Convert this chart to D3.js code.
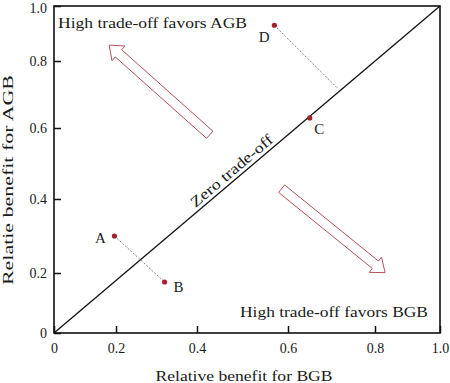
<!DOCTYPE html>
<html>
<head>
<meta charset="utf-8">
<script src="https://cdn.jsdelivr.net/npm/d3@7/dist/d3.min.js"></script>
<style>
  html, body { margin: 0; padding: 0; background: #ffffff; }
  svg text { font-family: "Liberation Serif", "Times New Roman", Times, "DejaVu Serif", serif; fill: #1a1a1a; }
</style>
</head>
<body>
<script>
// ---------------- data ----------------
const xTicks = [0, 0.2, 0.4, 0.6, 0.8, 1.0];
const xTickLabels = ["0", "0.2", "0.4", "0.6", "0.8", "1.0"];
const yTicks = [0, 0.2, 0.4, 0.6, 0.8, 1.0];
const yTickLabels = ["0", "0.2", "0.4", "0.6", "0.8", "1.0"];

const pointNames = ["A", "B", "C", "D"];
const bgbBenefit = [0.195, 0.32, 0.65, 0.57];   // x values
const agbBenefit = [0.30, 0.17, 0.63, 0.93];    // y values

// dotted connector lines: [from, to] in data units
const linkFrom = [[0.195, 0.30], [0.57, 0.93]];
const linkTo   = [[0.32, 0.17], [0.716, 0.716]];

// direction arrows: tail -> tip in data units
const arrowTail = [[0.428, 0.581], [0.586, 0.429]];
const arrowTip  = [[0.178, 0.858], [0.831, 0.201]];

const xTitle = "Relative benefit for BGB";
const yTitle = "Relatie benefit for AGB";
const diagLabel = "Zero trade-off";
const topLabel = "High trade-off favors AGB";
const bottomLabel = "High trade-off favors BGB";

// ---------------- drawing ----------------
const W = 450, H = 383;
const FONT = "'Liberation Serif', 'Times New Roman', Times, 'DejaVu Serif', serif";
const svg = d3.select("body").append("svg").attr("width", W).attr("height", H)
  .style("font-family", FONT);

// the reference's tick spacing is uneven, so the scales are piecewise over the ticks
const x = d3.scaleLinear().domain(xTicks).range([54, 116, 197, 288, 375, 440]);
const y = d3.scaleLinear().domain(yTicks).range([333, 273, 199, 128, 61, 6]);

const red = "#a3222e";
const arrowRed = "#b4505c";

// diagonal (zero trade-off)
const x0 = x(0), y0 = y(0), x1 = x(1), y1 = y(1);
svg.append("line")
  .attr("x1", x0).attr("y1", y0).attr("x2", x1).attr("y2", y1)
  .attr("stroke", "#111").attr("stroke-width", 1.3);

// axes
const xAxis = svg.append("g").attr("transform", `translate(0,${y0})`)
  .call(d3.axisBottom(x).tickValues(xTicks).tickFormat((d, i) => xTickLabels[i])
    .tickSize(-7).tickSizeOuter(0).tickPadding(10));
const yAxis = svg.append("g").attr("transform", `translate(${x0},0)`)
  .call(d3.axisLeft(y).tickValues(yTicks).tickFormat((d, i) => yTickLabels[i])
    .tickSize(-7).tickSizeOuter(0).tickPadding(7));
[xAxis, yAxis].forEach(g => {
  g.attr("font-family", null);
  g.select(".domain").remove();
  g.selectAll(".tick line").attr("stroke", "#111").attr("stroke-width", 1.5);
  g.selectAll(".tick text").attr("font-size", 14).attr("fill", "#1a1a1a")
    .style("font-family", FONT);
});
// keep the top y label just inside the picture
yAxis.selectAll(".tick text").filter(d => d === 1).attr("dy", "0.47em");

// frame
svg.append("rect")
  .attr("x", x0).attr("y", y1).attr("width", x1 - x0).attr("height", y0 - y1)
  .attr("fill", "none").attr("stroke", "#111").attr("stroke-width", 1.6);

// arrows
function arrowPath(tail, tip, shaftHalf, headHalf, headLen) {
  const dx = tip[0] - tail[0], dy = tip[1] - tail[1];
  const L = Math.hypot(dx, dy);
  const ux = dx / L, uy = dy / L;
  const nx = -uy, ny = ux;
  const bx = tip[0] - ux * headLen, by = tip[1] - uy * headLen;
  const p = [
    [tail[0] + nx * shaftHalf, tail[1] + ny * shaftHalf],
    [bx + nx * shaftHalf, by + ny * shaftHalf],
    [bx + nx * headHalf, by + ny * headHalf],
    [tip[0], tip[1]],
    [bx - nx * headHalf, by - ny * headHalf],
    [bx - nx * shaftHalf, by - ny * shaftHalf],
    [tail[0] - nx * shaftHalf, tail[1] - ny * shaftHalf]
  ];
  return "M" + p.map(q => q[0].toFixed(2) + "," + q[1].toFixed(2)).join("L") + "Z";
}
arrowTail.forEach((t, i) => {
  const tail = [x(t[0]), y(t[1])];
  const tip = [x(arrowTip[i][0]), y(arrowTip[i][1])];
  svg.append("path")
    .attr("d", arrowPath(tail, tip, 4.8, 9.8, 12.5))
    .attr("fill", "#fff").attr("stroke", arrowRed).attr("stroke-width", 1)
    .attr("stroke-linejoin", "miter");
});

// dotted links
const line = d3.line().x(d => x(d[0])).y(d => y(d[1]));
linkFrom.forEach((f, i) => {
  svg.append("path").attr("d", line([f, linkTo[i]]))
    .attr("fill", "none").attr("stroke", "#8e6f6f").attr("stroke-width", 0.9)
    .attr("stroke-dasharray", "2,1.6");
});

// points
const pts = pointNames.map((n, i) => ({ name: n, bx: bgbBenefit[i], ay: agbBenefit[i] }));
svg.selectAll("circle.pt").data(pts).enter().append("circle")
  .attr("class", "pt")
  .attr("cx", d => x(d.bx)).attr("cy", d => y(d.ay)).attr("r", 2.6)
  .attr("fill", red);

// point labels
const labelOffset = { A: [-14, 6.5], B: [14, 10], C: [9.5, 16.3], D: [-10.3, 17] };
svg.selectAll("text.pl").data(pts).enter().append("text")
  .attr("class", "pl")
  .attr("x", d => x(d.bx) + labelOffset[d.name][0])
  .attr("y", d => y(d.ay) + labelOffset[d.name][1])
  .attr("text-anchor", "middle").attr("font-size", 15)
  .text(d => d.name);

// diagonal label
const ang = Math.atan2(y1 - y0, x1 - x0) * 180 / Math.PI;
const t = 0.475;
const lx = x0 + (x1 - x0) * t, ly = y0 + (y1 - y0) * t;
svg.append("text")
  .attr("transform", `translate(${lx},${ly}) rotate(${ang})`)
  .attr("y", -4)
  .attr("text-anchor", "middle").attr("font-size", 15)
  .attr("textLength", 103).attr("lengthAdjust", "spacingAndGlyphs")
  .text(diagLabel);

// corner annotations
svg.append("text")
  .attr("x", x0 + 4).attr("y", y1 + 22)
  .attr("font-size", 14)
  .attr("textLength", 189).attr("lengthAdjust", "spacingAndGlyphs")
  .text(topLabel);
svg.append("text")
  .attr("x", x1 - 12).attr("y", y0 - 16.5)
  .attr("text-anchor", "end").attr("font-size", 14)
  .attr("textLength", 188).attr("lengthAdjust", "spacingAndGlyphs")
  .text(bottomLabel);

// axis titles
svg.append("text")
  .attr("x", 244).attr("y", 381)
  .attr("text-anchor", "middle").attr("font-size", 14)
  .attr("textLength", 177).attr("lengthAdjust", "spacingAndGlyphs")
  .text(xTitle);
svg.append("text")
  .attr("transform", `translate(13,180) rotate(-90)`)
  .attr("text-anchor", "middle").attr("font-size", 14)
  .attr("textLength", 210).attr("lengthAdjust", "spacingAndGlyphs")
  .text(yTitle);
</script>
</body>
</html>
